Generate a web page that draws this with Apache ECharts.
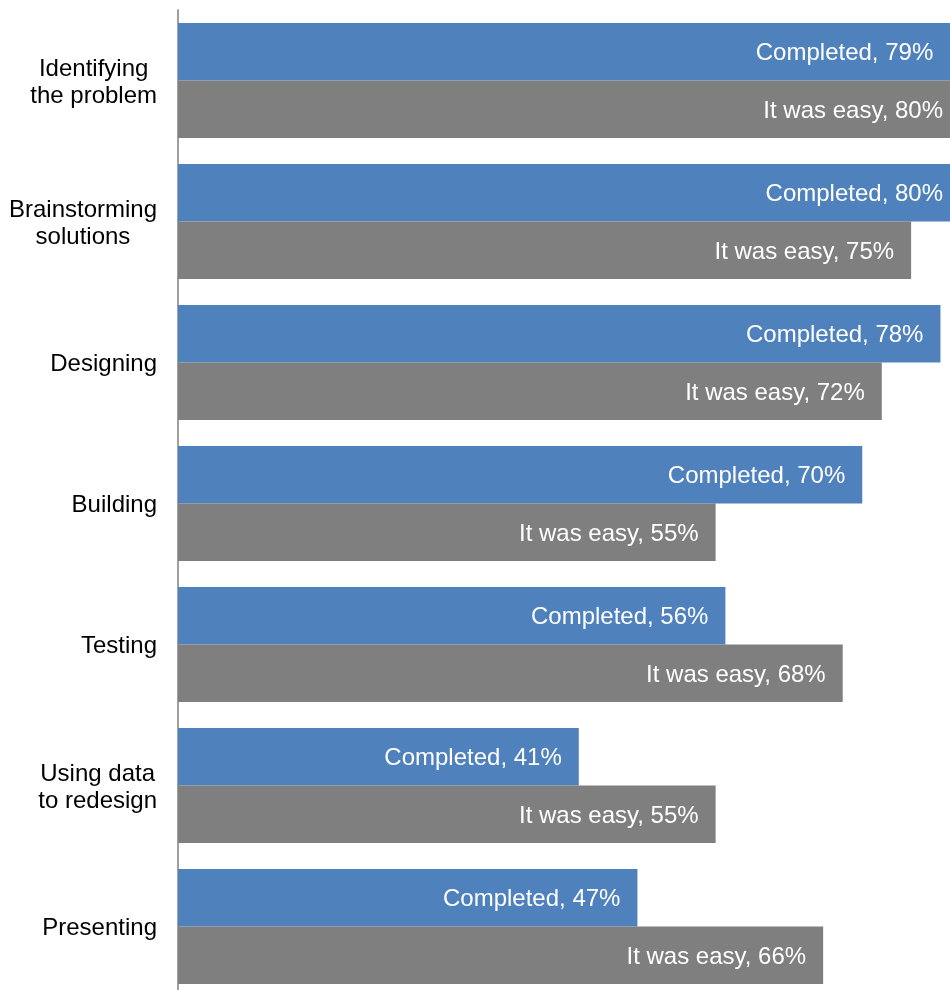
<!DOCTYPE html>
<html>
<head>
<meta charset="utf-8">
<script src="https://cdn.jsdelivr.net/npm/echarts@6/dist/echarts.min.js"></script>
<style>
  html, body { margin: 0; padding: 0; background: #fff; overflow: hidden; }
  #chart { width: 960px; height: 1000px; }
</style>
</head>
<body>
<div id="chart"></div>
<script>
// Stages of the project, top to bottom
const categories = [
  'Identifying\nthe problem',
  'Brainstorming\nsolutions',
  'Designing',
  'Building',
  'Testing',
  'Using data\nto redesign',
  'Presenting'
];
// Percent of students for each stage
const completed = [79, 80, 78, 70, 56, 41, 47];
const wasEasy = [80, 75, 72, 55, 68, 55, 66];

const chart = echarts.init(document.getElementById('chart'), null, { renderer: 'canvas' });

const labelStyle = {
  show: true,
  position: 'insideRight',
  distance: 17,
  offset: [0, 2],
  color: '#ffffff',
  fontFamily: '"Liberation Sans", Arial, sans-serif',
  fontSize: 24,
  formatter: p => p.seriesName + ', ' + p.value + '%'
};

chart.setOption({
  animation: false,
  grid: { left: 178, top: 10, width: 782, height: 987, containLabel: false },
  xAxis: {
    type: 'value',
    min: 0,
    max: 80,
    show: false
  },
  yAxis: {
    type: 'category',
    inverse: true,
    data: categories,
    axisLine: { show: true, lineStyle: { color: '#a0a0a0', width: 2 } },
    axisTick: { show: false },
    splitLine: { show: false },
    axisLabel: {
      margin: 21,
      align: 'right',
      padding: [4, 0, 0, 0],
      fontFamily: '"Liberation Sans", Arial, sans-serif',
      fontSize: 24,
      lineHeight: 27,
      color: '#000000',
      formatter: v => v.split('\n').map(s => '{c|' + s + '}').join('\n'),
      rich: {
        c: {
          align: 'center',
          fontFamily: '"Liberation Sans", Arial, sans-serif',
          fontSize: 24,
          lineHeight: 27,
          color: '#000000'
        }
      }
    }
  },
  series: [
    {
      name: 'Completed',
      type: 'bar',
      data: completed,
      barGap: '0%',
      barCategoryGap: '18.44%',
      itemStyle: { color: '#4f81bd' },
      label: labelStyle
    },
    {
      name: 'It was easy',
      type: 'bar',
      data: wasEasy,
      barGap: '0%',
      barCategoryGap: '18.44%',
      itemStyle: { color: '#7f7f7f' },
      label: labelStyle
    }
  ]
});
</script>
</body>
</html>
